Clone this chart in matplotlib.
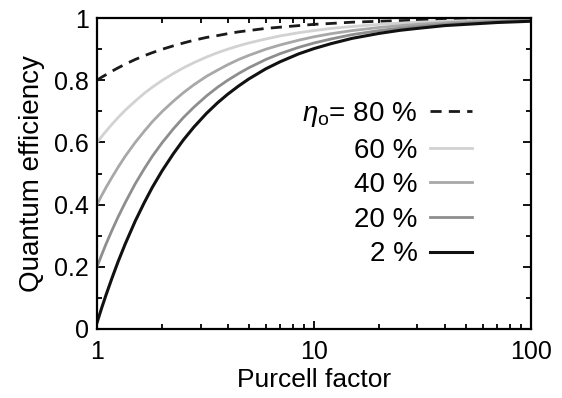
import numpy as np
import matplotlib
matplotlib.use("Agg")
import matplotlib.pyplot as plt
from matplotlib.ticker import LogLocator, MultipleLocator, FixedLocator, FixedFormatter, NullFormatter

plt.rcParams['font.family'] = ['Liberation Sans', 'DejaVu Sans']
plt.rcParams['mathtext.fontset'] = 'custom'
plt.rcParams['mathtext.rm'] = 'Liberation Sans'
plt.rcParams['mathtext.it'] = 'Liberation Sans:italic'

# Purcell factor sample points
purcell = [1, 1.05, 1.1, 1.17, 1.25, 1.35, 1.5, 1.65, 1.8, 2, 2.25, 2.5, 2.8, 3.2,
           3.6, 4, 4.5, 5, 6, 7, 8.5, 10, 12, 15, 20, 25, 30, 40, 50, 70, 100]

# quantum efficiency, one list per intrinsic efficiency
qe_80 = [0.800, 0.810, 0.818, 0.829, 0.840, 0.852, 0.867, 0.879, 0.889, 0.900,
         0.911, 0.920, 0.929, 0.938, 0.944, 0.950, 0.956, 0.960, 0.967, 0.971,
         0.976, 0.980, 0.983, 0.987, 0.990, 0.992, 0.993, 0.995, 0.996, 0.997, 0.998]
qe_60 = [0.600, 0.619, 0.636, 0.658, 0.680, 0.704, 0.733, 0.758, 0.778, 0.800,
         0.822, 0.840, 0.857, 0.875, 0.889, 0.900, 0.911, 0.920, 0.933, 0.943,
         0.953, 0.960, 0.967, 0.973, 0.980, 0.984, 0.987, 0.990, 0.992, 0.994, 0.996]
qe_40 = [0.400, 0.429, 0.455, 0.487, 0.520, 0.556, 0.600, 0.636, 0.667, 0.700,
         0.733, 0.760, 0.786, 0.813, 0.833, 0.850, 0.867, 0.880, 0.900, 0.914,
         0.929, 0.940, 0.950, 0.960, 0.970, 0.976, 0.980, 0.985, 0.988, 0.991, 0.994]
qe_20 = [0.200, 0.238, 0.273, 0.316, 0.360, 0.407, 0.467, 0.515, 0.556, 0.600,
         0.644, 0.680, 0.714, 0.750, 0.778, 0.800, 0.822, 0.840, 0.867, 0.886,
         0.906, 0.920, 0.933, 0.947, 0.960, 0.968, 0.973, 0.980, 0.984, 0.989, 0.992]
qe_2 = [0.020, 0.067, 0.109, 0.162, 0.216, 0.274, 0.347, 0.406, 0.456, 0.510,
        0.564, 0.608, 0.650, 0.694, 0.728, 0.755, 0.782, 0.804, 0.837, 0.860,
        0.885, 0.902, 0.918, 0.935, 0.951, 0.961, 0.967, 0.976, 0.980, 0.986, 0.990]

labels = [r'$\eta_\mathrm{o}$= 80 %', '60 %', '40 %', '20 %', '2 %']
x_ticks = [1, 10, 100]
x_ticklabels = ['1', '10', '100']
y_ticks = [0, 0.2, 0.4, 0.6, 0.8, 1.0]
y_ticklabels = ['0', '0.2', '0.4', '0.6', '0.8', '1']

fig = plt.figure(figsize=(5.62, 3.98), dpi=100)
ax = fig.add_axes([0.1726, 0.1734, 0.772, 0.781])

ax.plot(purcell, qe_80, color='#1a1a1a', lw=2.0, ls=(0, (4.0, 2.6)), label=labels[0])
ax.plot(purcell, qe_60, color='#d2d2d2', lw=2.0, label=labels[1])
ax.plot(purcell, qe_40, color='#a8a8a8', lw=2.0, label=labels[2])
ax.plot(purcell, qe_20, color='#8e8e8e', lw=2.0, label=labels[3])
ax.plot(purcell, qe_2, color='#111111', lw=2.2, label=labels[4])

ax.set_xscale('log')
ax.set_xlim(1, 100)
ax.set_ylim(0, 1)
ax.xaxis.set_major_locator(FixedLocator(x_ticks))
ax.xaxis.set_major_formatter(FixedFormatter(x_ticklabels))
ax.xaxis.set_minor_locator(LogLocator(base=10, subs=np.arange(2, 10)))
ax.xaxis.set_minor_formatter(NullFormatter())
ax.yaxis.set_minor_locator(MultipleLocator(0.1))
ax.set_yticks(y_ticks)
ax.set_yticklabels(y_ticklabels)

ax.tick_params(which='both', direction='in', top=True, right=True, labelsize=18,
               width=1.3)
ax.tick_params(which='major', length=6)
ax.tick_params(which='minor', length=3.5)
ax.tick_params(axis='y', pad=6)
ax.tick_params(axis='x', pad=8)
for s in ax.spines.values():
    s.set_linewidth(1.6)

ax.set_xlabel('Purcell factor', fontsize=19, labelpad=3)
ax.set_ylabel('Quantum efficiency', fontsize=20, labelpad=6)

ax.legend(loc='upper right', bbox_to_anchor=(0.864, 0.737), frameon=False,
          markerfirst=False, fontsize=20, handlelength=1.5, handletextpad=0.45,
          labelspacing=0.31, borderpad=0, borderaxespad=0)

fig.savefig('out.png', dpi=100)
